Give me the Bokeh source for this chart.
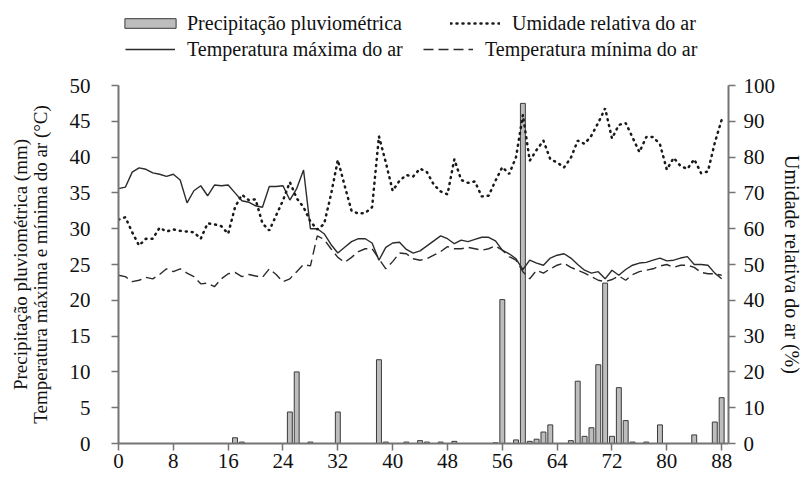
from bokeh.plotting import figure
from bokeh.models import Range1d, LinearAxis, FixedTicker, Legend, LegendItem
from bokeh.layouts import column
from bokeh.embed import file_html
from bokeh.resources import INLINE

days = list(range(0, 89))

tmax = [35.6, 35.8, 37.9, 38.5, 38.3, 37.8, 37.6, 37.3, 37.6, 36.8,
        33.6, 35.3, 36.0, 34.6, 36.1, 36.0, 36.1, 35.0, 33.9, 33.7,
        33.2, 33.0, 35.9, 35.9, 36.0, 34.0, 35.6, 38.2, 30.0, 30.0,
        29.3, 27.8, 26.6, 27.4, 28.2, 28.6, 28.6, 28.0, 25.6, 27.4,
        28.0, 28.1, 27.1, 26.6, 26.9, 27.6, 28.3, 29.0, 28.6, 27.9,
        28.4, 28.2, 28.5, 28.8, 28.8, 28.3, 27.0, 26.5, 25.8, 24.3,
        25.6, 25.2, 24.9, 25.9, 26.3, 26.5, 25.9, 25.0, 24.2, 23.8,
        24.0, 23.0, 24.2, 23.5, 24.3, 24.9, 25.2, 25.3, 25.6, 25.9,
        25.5, 25.6, 25.9, 26.1, 25.0, 25.0, 24.9, 23.8, 23.0]

tmin = [23.5, 23.3, 22.6, 22.8, 23.2, 23.0, 23.6, 24.4, 24.0, 24.4,
        23.8, 23.3, 22.3, 22.4, 21.9, 23.0, 23.7, 23.9, 23.3, 23.6,
        23.4, 23.2, 24.4, 23.6, 22.6, 23.0, 24.0, 25.0, 24.8, 29.0,
        28.5, 27.2, 26.0, 25.3, 26.0, 26.8, 27.2, 27.2, 25.8, 24.4,
        25.4, 26.6, 26.5, 25.8, 25.6, 25.8, 26.3, 26.8, 27.5, 27.2,
        27.2, 27.4, 27.2, 27.0, 27.2, 27.6, 27.0, 26.1, 25.6, 24.0,
        23.0, 24.2, 23.8, 24.4, 24.9, 25.2, 24.6, 24.2, 23.8, 23.3,
        22.8, 22.6, 22.9, 23.4, 22.8, 23.6, 24.0, 24.2, 24.4, 24.8,
        25.0, 24.6, 24.9, 24.9, 24.6, 23.9, 23.7, 23.7, 23.5]

umidade = [62.5, 63.2, 59.0, 55.3, 57.2, 57.2, 60.3, 59.2, 59.8, 59.4,
           59.2, 59.0, 57.2, 61.5, 61.2, 60.7, 58.6, 66.0, 69.5, 68.0,
           68.2, 61.5, 59.5, 63.7, 67.9, 73.0, 68.5, 66.0, 62.0, 59.8,
           61.3, 69.5, 79.2, 72.0, 65.0, 64.2, 64.4, 66.0, 85.8, 78.5,
           70.6, 73.4, 75.0, 74.6, 76.8, 75.8, 72.3, 70.4, 69.6, 79.4,
           73.6, 72.8, 73.2, 69.0, 69.2, 73.4, 77.2, 75.3, 80.0, 91.8,
           79.0, 82.0, 84.6, 79.4, 78.5, 77.1, 79.8, 84.6, 83.7, 86.0,
           89.6, 93.6, 85.2, 89.0, 89.5, 85.5, 81.4, 85.6, 85.6, 83.6,
           76.5, 79.8, 77.5, 76.7, 79.4, 75.5, 76.0, 84.0, 90.4]

chuva_dias = [17, 18, 25, 26, 28, 32, 38, 39, 42, 44, 45, 47, 49, 55,
              56, 58, 59, 60, 61, 62, 63, 66, 67, 68, 69, 70, 71, 72,
              73, 74, 75, 77, 79, 84, 87, 88]
chuva = [0.8, 0.2, 4.4, 10.0, 0.2, 4.4, 11.7, 0.2, 0.2, 0.4, 0.2, 0.2, 0.3, 0.1,
         20.1, 0.5, 47.5, 0.3, 0.6, 1.6, 2.6, 0.4, 8.7, 1.0, 2.2, 11.0, 22.4, 1.0,
         7.8, 3.2, 0.2, 0.2, 2.6, 1.2, 3.0, 6.4]

x_ticks = list(range(0, 89, 8))
left_ticks = list(range(0, 51, 5))
right_ticks = list(range(0, 101, 10))

FONT = "Liberation Serif"
INK = "#2b2b2b"
AXIS = "#747474"
TXT = "#111111"
NAN = float("nan")

BAR_STYLE = dict(fill_color="#bdbdbd", line_color="#3a3a3a", line_width=1)
MAX_STYLE = dict(line_color=INK, line_width=1.4)
MIN_STYLE = dict(line_color=INK, line_width=1.4, line_dash="10 5")
UM_STYLE = dict(line_color="#1a1a1a", line_width=2.5, line_dash="1 5", line_cap="round")

W = 806
LEG_H = 70

# ---------------- main chart ----------------
p = figure(width=W, height=484 - LEG_H, output_backend="svg", toolbar_location=None,
           x_range=Range1d(0, 89), y_range=Range1d(0, 50),
           min_border_left=118, min_border_right=72, min_border_top=15,
           min_border_bottom=41)
p.extra_y_ranges = {"h": Range1d(0, 100)}
p.outline_line_color = None
p.xgrid.visible = False
p.ygrid.visible = False

p.vbar(x=chuva_dias, top=chuva, width=0.72, bottom=0, **BAR_STYLE)
p.line(days, tmax, **MAX_STYLE)
p.line(days, tmin, **MIN_STYLE)
p.line(days, umidade, y_range_name="h", **UM_STYLE)


def style_axis(ax, standoff):
    ax.major_label_text_font = FONT
    ax.major_label_text_font_size = "21px"
    ax.major_label_text_color = TXT
    ax.major_label_standoff = standoff
    ax.axis_line_color = AXIS
    ax.axis_line_width = 2
    ax.major_tick_line_color = AXIS
    ax.major_tick_line_width = 1.5
    ax.major_tick_out = 7
    ax.major_tick_in = 0
    ax.minor_tick_line_color = None
    ax.axis_label_text_font = FONT
    ax.axis_label_text_font_style = "normal"
    ax.axis_label_text_color = TXT


style_axis(p.xaxis[0], 3)
style_axis(p.yaxis[0], 21)
p.xaxis[0].ticker = FixedTicker(ticks=x_ticks)
p.yaxis[0].ticker = FixedTicker(ticks=left_ticks)
p.yaxis[0].axis_label = "Precipitação pluviométrica (mm)\nTemperatura máxima e mínima do ar (°C)"
p.yaxis[0].axis_label_text_font_size = "19px"
p.yaxis[0].axis_label_text_line_height = 0.95
p.yaxis[0].axis_label_standoff = 16

ry = LinearAxis(y_range_name="h", ticker=FixedTicker(ticks=right_ticks),
                axis_label="Umidade relativa do ar (%)")
style_axis(ry, 8)
ry.axis_label_text_font_size = "20px"
ry.axis_label_standoff = 3
p.add_layout(ry, "right")

# ---------------- legend strip (no axes) ----------------
lf = figure(width=W, height=LEG_H, output_backend="svg", toolbar_location=None,
            x_range=Range1d(0, 1), y_range=Range1d(0, 1), min_border=0,
            x_axis_type=None, y_axis_type=None)
lf.grid.visible = False
lf.outline_line_color = None

# legend-only renderers (NaN data: nothing is drawn in the strip itself)
d_bar = lf.vbar(x=[NAN], top=[NAN], width=1, bottom=0, **BAR_STYLE)
d_max = lf.line([NAN, NAN], [NAN, NAN], **MAX_STYLE)
d_min = lf.line([NAN, NAN], [NAN, NAN], **MIN_STYLE)
d_um = lf.line([NAN, NAN], [NAN, NAN], **UM_STYLE)


def add_legend(renderer, label, x, y, gw, standoff):
    lg = Legend(items=[LegendItem(label=label, renderers=[renderer])],
                location=(x, y), glyph_width=gw, glyph_height=12,
                label_height=24, label_standoff=standoff, padding=0, margin=0,
                spacing=0, border_line_color=None, background_fill_alpha=0,
                label_text_font=FONT, label_text_font_size="20px",
                label_text_color=TXT)
    lf.add_layout(lg)


# x offsets are measured from the (aligned) frame's left edge
add_legend(d_bar, "Precipitação pluviométrica", 0, 35, 64, 5)
add_legend(d_max, "Temperatura máxima do ar", 7, 9, 50, 12)
add_legend(d_um, "Umidade relativa do ar", 332, 35, 50, 12)
add_legend(d_min, "Temperatura mínima do ar", 305, 9, 50, 12)

layout = column(lf, p, spacing=0)
open("out.html", "w").write(file_html(layout, INLINE))
